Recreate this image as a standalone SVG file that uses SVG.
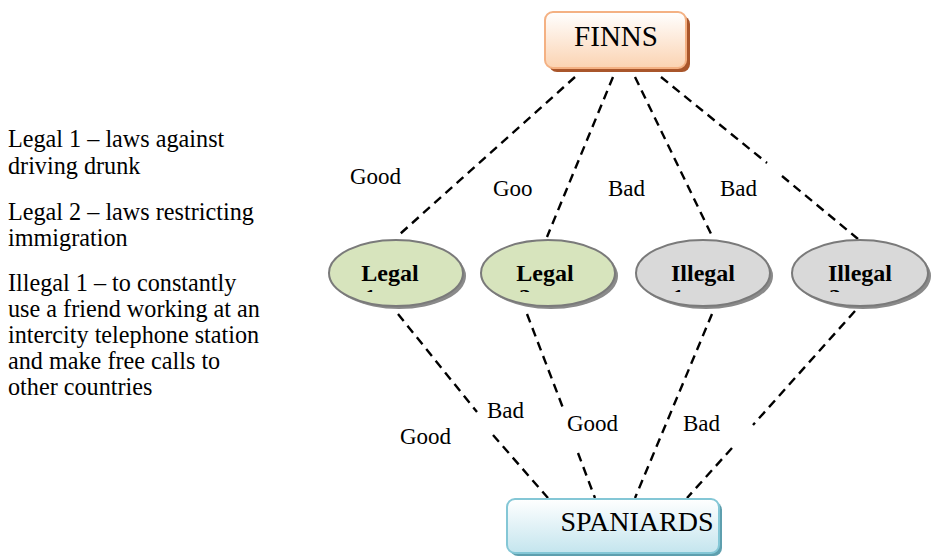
<svg xmlns="http://www.w3.org/2000/svg" width="937" height="556" viewBox="0 0 937 556">
<defs>
<linearGradient id="gFinn" x1="0" y1="0" x2="0" y2="1"><stop offset="0" stop-color="#ffffff"/><stop offset="1" stop-color="#fbd3b2"/></linearGradient>
<linearGradient id="gSpan" x1="0" y1="0" x2="0" y2="1"><stop offset="0" stop-color="#ffffff"/><stop offset="1" stop-color="#c4e5ee"/></linearGradient>
<clipPath id="cl"><rect x="0" y="0" width="937" height="292"/></clipPath>
<style>
.t{font-family:"Liberation Serif","Times New Roman",serif;fill:#000}
.side{font-size:24.2px}
.lab{font-size:23px}
.node{font-size:24px;font-weight:bold}
.c{stroke:#000;stroke-width:2.4;stroke-dasharray:9 6;fill:none}
.ell{stroke:#7a7a7a;stroke-width:2}
.sh{fill:#8a8a8a}
</style>
</defs>

<g id="legend" class="t side">
<text x="8" y="147">Legal 1 – laws against</text>
<text x="8" y="174">driving drunk</text>
<text x="8" y="220">Legal 2 – laws restricting</text>
<text x="8" y="246">immigration</text>
<text x="8" y="291">Illegal 1 – to constantly</text>
<text x="8" y="317">use a friend working at an</text>
<text x="8" y="343">intercity telephone station</text>
<text x="8" y="369">and make free calls to</text>
<text x="8" y="395">other countries</text>
</g>

<g id="connectors" class="c">
<path d="M575,77 L400,234"/>
<path d="M613,77 L547,237"/>
<path d="M635,77 L713,238"/>
<path d="M661,77 L767,163 M782,176 L858,239"/>
<path d="M398,314 L477,412 M493,435 L548,498"/>
<path d="M527,314 L563,408 M578,453 L595,498"/>
<path d="M712,314 L635,498"/>
<path d="M855,311 L753,425 M732,448 L687,498"/>
</g>

<g id="edge-labels" class="t lab">
<text x="350" y="184">Good</text>
<text x="493" y="196">Goo</text>
<text x="608" y="196">Bad</text>
<text x="720" y="196">Bad</text>
<text x="400" y="444">Good</text>
<text x="487" y="418">Bad</text>
<text x="567" y="431">Good</text>
<text x="683" y="431">Bad</text>
</g>

<g id="finns">
<rect x="549" y="16" width="141" height="56" rx="8" fill="#a9562b"/>
<rect x="545" y="12" width="141" height="56" rx="8" fill="url(#gFinn)" stroke="#f4b183" stroke-width="2"/>
<text class="t" x="616" y="46" font-size="29" text-anchor="middle">FINNS</text>
</g>

<g id="legal1">
<ellipse class="sh" cx="399" cy="276" rx="67" ry="33"/>
<ellipse class="ell" cx="396" cy="273" rx="67" ry="33" fill="#d7e4bd"/>
<text class="t node" x="390" y="281" text-anchor="middle">Legal</text>
<text class="t node" x="364" y="305" clip-path="url(#cl)">1</text>
</g>

<g id="legal2">
<ellipse class="sh" cx="551" cy="276" rx="67" ry="33"/>
<ellipse class="ell" cx="548" cy="273" rx="67" ry="33" fill="#d7e4bd"/>
<text class="t node" x="545" y="281" text-anchor="middle">Legal</text>
<text class="t node" x="519" y="305" clip-path="url(#cl)">2</text>
</g>

<g id="illegal1">
<ellipse class="sh" cx="706" cy="276" rx="67" ry="33"/>
<ellipse class="ell" cx="703" cy="273" rx="67" ry="33" fill="#d9d9d9"/>
<text class="t node" x="703" y="281" text-anchor="middle">Illegal</text>
<text class="t node" x="672" y="305" clip-path="url(#cl)">1</text>
</g>

<g id="illegal2">
<ellipse class="sh" cx="863" cy="276" rx="68" ry="33"/>
<ellipse class="ell" cx="860" cy="273" rx="68" ry="33" fill="#d9d9d9"/>
<text class="t node" x="860" y="281" text-anchor="middle">Illegal</text>
<text class="t node" x="829" y="305" clip-path="url(#cl)">2</text>
</g>

<g id="spaniards">
<rect x="510" y="502" width="212" height="54" rx="8" fill="#5e9fae"/>
<rect x="507" y="499" width="212" height="54" rx="8" fill="url(#gSpan)" stroke="#84c7d6" stroke-width="2"/>
<text class="t" x="637" y="531" font-size="28" text-anchor="middle">SPANIARDS</text>
</g>
</svg>
